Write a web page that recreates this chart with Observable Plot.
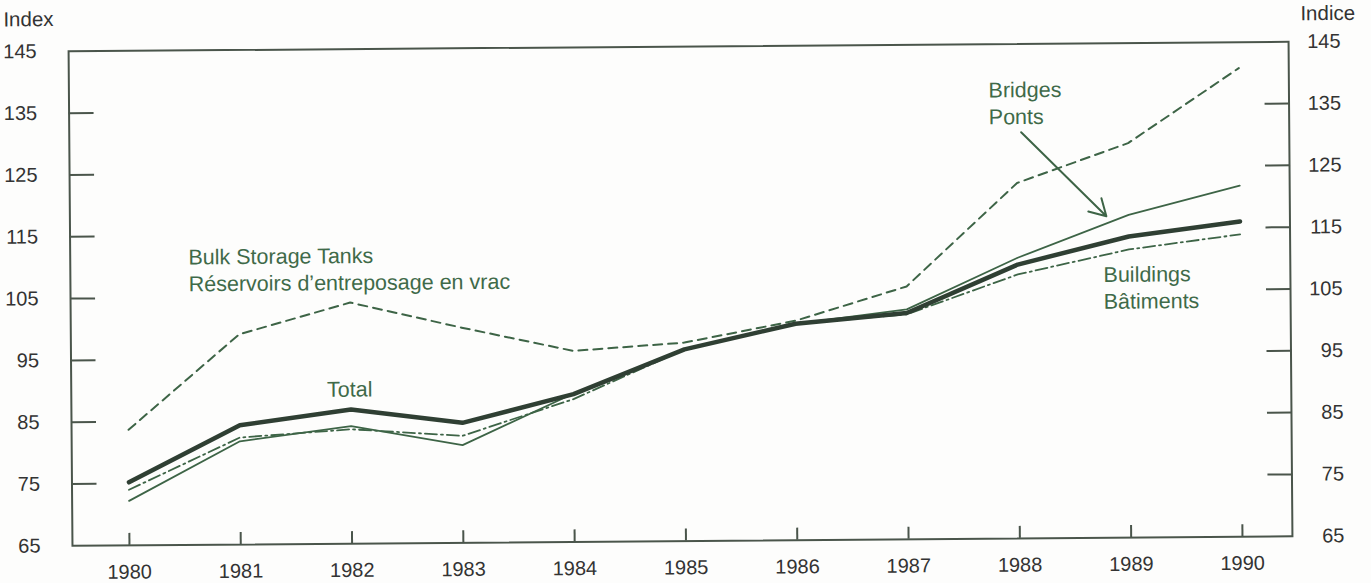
<!DOCTYPE html>
<html>
<head>
<meta charset="utf-8">
<script src="https://cdn.jsdelivr.net/npm/d3@7"></script>
<script src="https://cdn.jsdelivr.net/npm/@observablehq/plot@0.6"></script>
<style>
  html, body { margin: 0; padding: 0; background: #fdfdfc; }
  #chart { width: 1371px; height: 583px; overflow: hidden; }
</style>
</head>
<body>
<div id="chart"></div>
<script>
// ---- data ----
const years = [1980, 1981, 1982, 1983, 1984, 1985, 1986, 1987, 1988, 1989, 1990];
const total     = [75.2, 84.3, 86.7, 84.4, 88.9, 96.0, 100.0, 101.6, 109.3, 113.7, 116.0];
const bridges   = [72.2, 81.7, 84.0, 80.8, 89.0, 96.0, 100.0, 102.2, 110.4, 117.2, 121.8];
const buildings = [74.0, 82.3, 83.5, 82.3, 88.1, 96.0, 100.0, 101.4, 107.7, 111.6, 113.9];
const bulk      = [83.7, 99.0, 104.0, 99.8, 95.9, 97.1, 100.5, 105.9, 122.5, 128.8, 140.8];

const yLabelTicks = [65, 75, 85, 95, 105, 115, 125, 135, 145];
const yInnerTicks = [75, 85, 95, 105, 115, 125, 135];

const leftLabels = [
  {x: 1980.55, y: 109.6, text: "Bulk Storage Tanks\nRéservoirs d\u2019entreposage en vrac"},
  {x: 1987.75, y: 135.6, text: "Bridges\nPonts"},
  {x: 1988.77, y: 105.6, text: "Buildings\nBâtiments"}
];
const centerLabels = [
  {x: 1981.99, y: 89.9, text: "Total"}
];
const arrowData = [{x1: 1988.04, y1: 130.7, x2: 1988.80, y2: 117.0}];

// ---- build table ----
const series = [
  {name: "Total", values: total},
  {name: "Bridges", values: bridges},
  {name: "Buildings", values: buildings},
  {name: "Bulk", values: bulk}
];
const rows = name => years.map((yr, i) => ({year: yr, value: series.find(s => s.name === name).values[i]}));

const lineCol = "#3d6446";
const darkCol = "#2f3f33";
const axisCol = "#4a554b";
const textCol = "#3f6a49";
const numCol = "#333";

const chart = Plot.plot({
  width: 1371,
  height: 583,
  marginLeft: 70,
  marginRight: 81,
  marginTop: 46,
  marginBottom: 42.5,
  style: {fontFamily: "'Liberation Sans', Arial, Helvetica, sans-serif", fontSize: "20px", background: "transparent", color: numCol, overflow: "visible"},
  x: {type: "linear", domain: [1979.488, 1990.449]},
  y: {domain: [65, 145]},
  marks: [
    Plot.frame({stroke: axisCol, strokeWidth: 2}),
    // bottom axis labels and inward ticks
    Plot.axisX({ticks: years, tickFormat: d => String(d), tickSize: 0, tickPadding: 19, fill: numCol}),
    Plot.axisX({ticks: years, tickSize: -12, text: null, stroke: axisCol, strokeWidth: 2}),
    // left axis
    Plot.axisY({anchor: "left", ticks: yLabelTicks, tickSize: 0, tickPadding: 32, label: null, fill: numCol}),
    Plot.axisY({anchor: "left", ticks: yInnerTicks, tickSize: -25, text: null, label: null, stroke: axisCol, strokeWidth: 2}),
    // right axis
    Plot.axisY({anchor: "right", ticks: yLabelTicks, tickSize: 0, tickPadding: 52, textAnchor: "end", label: null, fill: numCol}),
    Plot.axisY({anchor: "right", ticks: yInnerTicks, tickSize: -25, text: null, label: null, stroke: axisCol, strokeWidth: 2}),
    Plot.text(["Index"], {text: d => d, frameAnchor: "top-left", dx: -65, dy: -32, textAnchor: "start", lineAnchor: "middle", fill: numCol, fontSize: 20.5}),
    Plot.text(["Indice"], {text: d => d, frameAnchor: "top-right", dx: 12, dy: -28, textAnchor: "start", lineAnchor: "middle", fill: numCol, fontSize: 20.5}),
    // series
    Plot.line(rows("Bulk"), {x: "year", y: "value", stroke: lineCol, strokeWidth: 2, strokeDasharray: "9,6"}),
    Plot.line(rows("Buildings"), {x: "year", y: "value", stroke: lineCol, strokeWidth: 1.8, strokeDasharray: "12,4,2,4"}),
    Plot.line(rows("Bridges"), {x: "year", y: "value", stroke: lineCol, strokeWidth: 1.8}),
    Plot.line(rows("Total"), {x: "year", y: "value", stroke: darkCol, strokeWidth: 4.5}),
    // annotations
    Plot.text(leftLabels, {x: "x", y: "y", text: "text", textAnchor: "start", lineAnchor: "middle", lineHeight: 1.25, fill: textCol, fontSize: 21.5}),
    Plot.text(centerLabels, {x: "x", y: "y", text: "text", textAnchor: "middle", lineAnchor: "middle", fill: textCol, fontSize: 21.5}),
    Plot.arrow(arrowData, {x1: "x1", y1: "y1", x2: "x2", y2: "y2", stroke: lineCol, strokeWidth: 2, headLength: 14})
  ]
});
chart.style.transform = "rotate(-0.45deg)";
chart.style.transformOrigin = "50% 50%";
document.getElementById("chart").appendChild(chart);
</script>
</body>
</html>
